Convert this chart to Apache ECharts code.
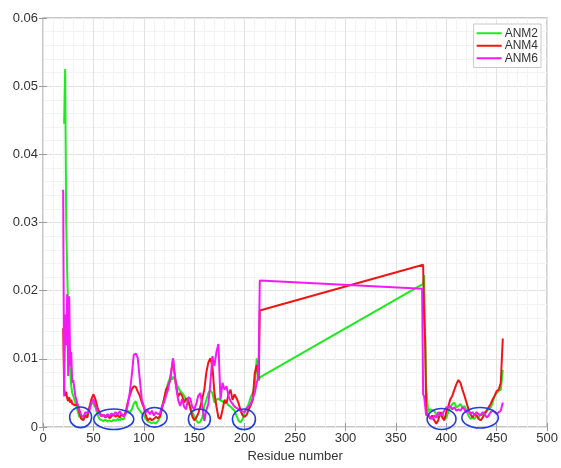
<!DOCTYPE html>
<html>
<head>
<meta charset="utf-8">
<script src="https://cdn.jsdelivr.net/npm/echarts@6/dist/echarts.min.js"></script>
<style>
html,body{margin:0;padding:0;background:#fff;}
#chart{width:561px;height:468px;}
</style>
</head>
<body>
<div id="chart"></div>
<script>
// Residue numbers (shared by all three series)
const residues = [
  20,21,22,23,24,25,26,27,28,29,30,
  32,34,36,38,40,42,44,46,48,50,
  52,54,56,58,60,62,64,66,68,70,
  72,74,76,78,80,82,84,86,88,90,
  92,94,96,98,100,102,104,106,108,110,
  112,114,116,118,120,122,124,126,128,
  129,
  130,132,134,136,138,140,142,144,146,148,
  150,152,154,156,158,160,162,164,166,168,
  170,172,174,176,178,180,182,184,186,188,
  190,192,194,196,198,200,202,204,206,208,
  210,212,
  213,214,215,
  376,377,378,379,380,
  382,384,386,388,390,392,394,396,398,400,
  402,404,406,408,410,412,414,416,418,420,
  422,424,426,428,430,432,434,436,438,440,
  442,444,446,448,450,452,454,456
];

const anm2 = [
  null,0.0445,0.0525,0.030,0.0228,0.0165,0.011,0.008,0.006,0.005,0.0046,
  0.0036,0.0026,0.0015,0.0014,0.0012,0.0016,0.0020,0.0028,0.0036,0.0034,
  0.0029,0.0018,0.0012,0.0010,0.0009,0.0011,0.0008,0.0010,0.0008,0.0011,
  0.0009,0.0012,0.0010,0.0013,0.0011,0.0022,0.0024,0.0021,0.0026,0.0034,
  0.0038,0.0028,0.0024,0.0020,0.0017,0.0012,0.0008,0.0007,0.0006,0.0007,
  0.0005,0.0009,0.0014,0.0030,0.0041,0.0052,0.0065,0.0072,0.0070,
  0.0074,
  0.0072,0.0066,0.0058,0.0053,0.0050,0.0046,0.0040,0.0036,0.0030,0.0022,
  0.0016,0.0010,0.0006,0.0008,0.0014,0.0031,0.0040,0.0050,0.0054,0.0050,
  0.0036,0.0040,0.0042,0.0039,0.0038,0.0035,0.0036,0.0032,0.0030,0.0027,
  0.0024,0.0016,0.0009,0.0007,0.0012,0.0022,0.0028,0.0034,0.0044,0.0050,
  0.0060,0.0101,
  0.0080,0.0068,0.0073,
  null,0.0210,0.0223,0.0132,0.0060,
  0.0022,0.0026,0.0025,0.0024,0.0019,0.0014,0.0017,0.0022,0.0012,0.0014,
  0.0022,0.0029,0.0034,0.0036,0.0029,0.0031,0.0034,0.0029,0.0031,0.0024,
  0.0017,0.0012,0.0014,0.0012,0.0017,0.0014,0.0019,0.0017,0.0022,0.0024,
  0.0026,0.0029,0.0036,0.0046,0.0050,0.0053,0.0055,0.0084
];

const anm4 = [
  0.0145,0.0055,0.0046,0.0052,0.0042,0.0038,0.0044,0.0036,0.0040,0.0034,0.0036,
  0.0032,0.0034,0.0022,0.0012,0.0010,0.0017,0.0014,0.0029,0.0041,0.0048,
  0.0041,0.0029,0.0022,0.0016,0.0018,0.0014,0.0017,0.0013,0.0016,0.0019,
  0.0015,0.0018,0.0014,0.0019,0.0016,0.0022,0.0036,0.0046,0.0055,0.0060,
  0.0059,0.0052,0.0046,0.0036,0.0029,0.0017,0.0010,0.0013,0.0010,0.0012,
  0.0015,0.0013,0.0016,0.0026,0.0041,0.0055,0.0060,0.0068,0.0089,
  0.0099,
  0.0085,0.0060,0.0045,0.0050,0.0046,0.0036,0.0042,0.0040,0.0028,0.0016,
  0.0010,0.0014,0.0020,0.0030,0.0042,0.0055,0.0080,0.0095,0.0101,0.0090,
  0.0050,0.0030,0.0014,0.0012,0.0025,0.0040,0.0035,0.0048,0.0055,0.0040,
  0.0048,0.0042,0.0035,0.0024,0.0017,0.0015,0.0018,0.0026,0.0032,0.0040,
  0.0079,0.0091,
  0.0080,0.0070,0.0171,
  null,0.0238,0.0158,0.0127,0.0022,
  0.0018,0.0012,0.0017,0.0010,0.0005,0.0010,0.0022,0.0014,0.0010,0.0022,
  0.0031,0.0041,0.0046,0.0055,0.0063,0.0069,0.0065,0.0055,0.0046,0.0036,
  0.0026,0.0019,0.0014,0.0019,0.0017,0.0012,0.0010,0.0014,0.0019,0.0024,
  0.0029,0.0034,0.0041,0.0046,0.0053,0.0055,0.0065,0.0130
];

const anm6 = [
  0.0348,0.0045,0.0165,0.0120,0.0195,0.0075,0.0192,0.0090,0.0110,0.0065,0.0069,
  0.0046,0.0035,0.0026,0.0017,0.0015,0.0022,0.0020,0.0024,0.0036,0.0041,
  0.0031,0.0024,0.0019,0.0016,0.0018,0.0015,0.0019,0.0016,0.0020,0.0017,
  0.0022,0.0018,0.0023,0.0019,0.0016,0.0019,0.0032,0.0050,0.0075,0.0106,
  0.0108,0.0101,0.0070,0.0040,0.0031,0.0022,0.0024,0.0019,0.0024,0.0017,
  0.0022,0.0019,0.0020,0.0031,0.0036,0.0046,0.0055,0.0070,0.0091,
  0.0101,
  0.0086,0.0060,0.0040,0.0031,0.0041,0.0030,0.0026,0.0044,0.0042,0.0030,
  0.0026,0.0034,0.0046,0.0050,0.0032,0.0009,0.0025,0.0034,0.0065,0.0104,
  0.0090,0.0110,0.0122,0.0040,0.0065,0.0055,0.0060,0.0045,0.0038,0.0034,
  0.0030,0.0028,0.0026,0.0024,0.0023,0.0022,0.0028,0.0030,0.0034,0.0042,
  0.0050,0.0065,
  0.0070,0.0104,0.0215,
  0.0203,0.0048,0.0045,0.0043,0.0017,
  0.0019,0.0014,0.0012,0.0017,0.0014,0.0022,0.0017,0.0019,0.0024,0.0029,
  0.0029,0.0031,0.0026,0.0029,0.0024,0.0026,0.0024,0.0029,0.0026,0.0022,
  0.0024,0.0019,0.0022,0.0017,0.0022,0.0019,0.0017,0.0022,0.0019,0.0014,
  0.0017,0.0022,0.0024,0.0022,0.0019,0.0022,0.0024,0.0036
];

// Annotation ellipses: [centre residue, centre value, x radius (residues), y radius (value)]
const ellipseCx = [37.3, 70.2, 110.7, 155.1, 199.3, 395.3, 433.5];
const ellipseCy = [0.00144, 0.00115, 0.00144, 0.00115, 0.00115, 0.00119, 0.00137];
const ellipseRx = [10.9, 19.8, 12.4, 10.9, 11.4, 14.3, 18.1];
const ellipseRy = [0.00151, 0.00151, 0.00144, 0.00151, 0.00151, 0.00154, 0.00151];

const seriesNames = ['ANM2', 'ANM4', 'ANM6'];
const seriesColors = ['#1eea1e', '#f01515', '#f51af5'];

const FONT = 'Liberation Sans, Arial, Helvetica, sans-serif';

function pairs(vals) { return residues.map((r, i) => [r, vals[i]]); }

const chart = echarts.init(document.getElementById('chart'), null, {renderer: 'canvas'});

const gridLine = {show: true, lineStyle: {color: '#e3e3e3', width: 1}};
const minorLine = {show: true, lineStyle: {color: '#f3f3f3', width: 1}};
const tickStyle = {show: true, inside: true, length: 4, lineStyle: {color: '#999'}};

chart.setOption({
  animation: false,
  backgroundColor: '#fff',
  grid: {left: 43, right: 12, top: 18, bottom: 33, show: true, borderColor: '#b5b5b5', borderWidth: 1.5, backgroundColor: 'transparent'},
  legend: {
    data: seriesNames,
    orient: 'vertical',
    right: 20, top: 24,
    icon: 'rect', itemWidth: 25, itemHeight: 2, itemGap: 0,
    padding: [3, 3, 3, 3],
    borderColor: '#c8c8c8', borderWidth: 1, backgroundColor: '#fff',
    textStyle: {fontSize: 12, lineHeight: 12.5, color: '#333', fontFamily: FONT, padding: [0, 0, 0, -2]}
  },
  xAxis: [{
    type: 'value', min: 0, max: 500, interval: 50, position: 'bottom',
    name: 'Residue number', nameLocation: 'middle', nameGap: 19,
    nameTextStyle: {fontSize: 13, color: '#333', fontFamily: FONT},
    axisLine: {show: false},
    axisTick: tickStyle,
    axisLabel: {fontSize: 13, color: '#333', fontFamily: FONT, margin: 5},
    splitLine: gridLine,
    minorTick: {show: false, splitNumber: 5},
    minorSplitLine: minorLine
  }, {
    type: 'value', min: 0, max: 500, interval: 50, position: 'top',
    axisLine: {show: false}, axisTick: tickStyle, axisLabel: {show: false}, splitLine: {show: false}
  }],
  yAxis: [{
    type: 'value', min: 0, max: 0.06, interval: 0.01, position: 'left',
    axisLine: {show: false},
    axisTick: tickStyle,
    axisLabel: {fontSize: 13, color: '#333', fontFamily: FONT, margin: 5},
    splitLine: gridLine,
    minorTick: {show: false, splitNumber: 5},
    minorSplitLine: minorLine
  }, {
    type: 'value', min: 0, max: 0.06, interval: 0.01, position: 'right',
    axisLine: {show: false}, axisTick: tickStyle, axisLabel: {show: false}, splitLine: {show: false}
  }],
  series: [
    ...[anm2, anm4, anm6].map((vals, k) => ({
      name: seriesNames[k],
      type: 'line',
      data: pairs(vals),
      showSymbol: false,
      connectNulls: true,
      color: seriesColors[k],
      lineStyle: {color: seriesColors[k], width: 2},
      emphasis: {disabled: true},
      z: 2 + k
    })),
    {
      name: 'marks',
      type: 'custom',
      clip: false,
      z: 10,
      data: ellipseCx.map((cx, i) => [cx, ellipseCy[i], ellipseRx[i], ellipseRy[i]]),
      renderItem: function (params, api) {
        const c = api.coord([api.value(0), api.value(1)]);
        const s = api.size([api.value(2), api.value(3)]);
        return {
          type: 'ellipse',
          shape: {cx: c[0], cy: c[1], rx: s[0], ry: s[1]},
          style: {fill: 'none', stroke: '#1f3fd8', lineWidth: 1.6}
        };
      }
    }
  ]
});
</script>
</body>
</html>
